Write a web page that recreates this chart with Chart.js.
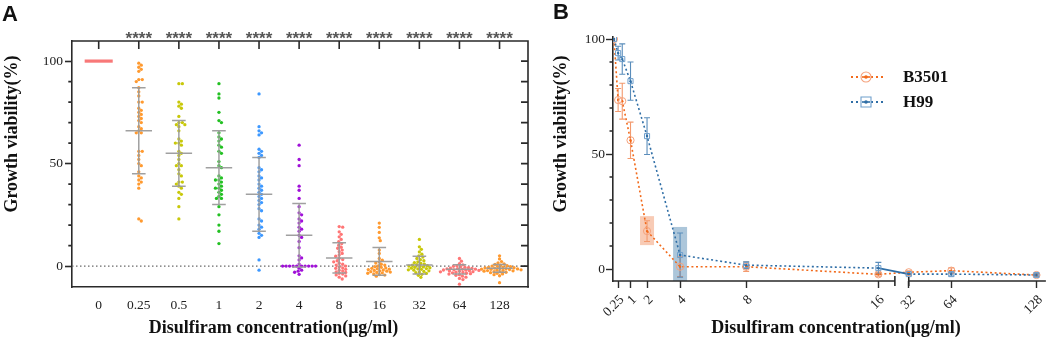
<!DOCTYPE html>
<html><head><meta charset="utf-8">
<script src="https://cdn.jsdelivr.net/npm/chart.js@4.4.1/dist/chart.umd.min.js"></script>
<style>
html,body{margin:0;padding:0;background:#fff;width:1052px;height:340px;overflow:hidden}
#ca{position:absolute;left:0;top:0}
#cb{position:absolute;left:545px;top:0}
</style></head><body>
<canvas id="ca" width="545" height="340"></canvas>
<canvas id="cb" width="507" height="340"></canvas>
<script>
// ================= Panel A data =================
const categories = ['0','0.25','0.5','1','2','4','8','16','32','64','128'];
const sigLabels  = ['', '****','****','****','****','****','****','****','****','****','****'];
const groupColors = ['#f87878','#ff9a30','#c8c80a','#22c022','#3d98ff','#a010d8','#ff7676','#ff9a30','#c8c80a','#ff7676','#ff9a30'];
const v0    = [];
const v025  = [99, 98, 97, 96, 95, 91, 91, 90, 87, 85, 83, 80, 80, 77, 76, 75, 74, 73, 72, 71, 70, 68, 67, 66, 65, 65, 56, 56, 54, 52, 50, 49, 46, 44, 43, 42, 41, 40, 38, 23, 22];
const v05   = [89, 89, 80, 79, 78, 77, 73, 70, 70, 69, 69, 68, 66, 62, 61, 60, 60, 59, 56, 55, 54, 52, 50, 49, 49, 47, 45, 44, 41, 41, 40, 39, 38, 36, 35, 33, 29, 23];
const v1    = [89, 84, 82, 75, 71, 70, 65, 63, 62, 61, 59, 58, 56, 55, 51, 49, 48, 44, 43, 42, 42, 41, 40, 39, 38, 38, 37, 36, 35, 34, 33, 33, 29, 25, 20, 17, 11];
const v2    = [84, 68, 66, 65, 64, 57, 56, 55, 54, 53, 48, 47, 46, 44, 43, 42, 40, 39, 38, 37, 36, 35, 34, 33, 32, 31, 30, 28, 27, 23, 22, 20, 19, 18, 16, 15, 14, 3, -2];
const v4    = [59, 52, 49, 39, 37, 33, 29, 26, 25, 23, 22, 21, 19, 18, 17, 15, 14, 12, 9, 5, 4, 3, 1, 0, 0, 0, 0, 0, 0, 0, 0, 0, 0, -1, -2, -2.5, -3, -4];
const v8    = [19.3, 19, 16.7, 15.5, 14.3, 13, 11.9, 11, 10.2, 9.2, 8.7, 7.8, 7, 6.2, 5.4, 4.8, 3.8, 3.2, 2.6, 2.1, 1.4, 0.9, 0.5, 0, -0.5, -0.9, -1.1, -1.6, -2, -2.4, -2.8, -3.1, -3.5, -3.9, -4.3, -4.8, -5.4, -6.3];
const v16   = [21, 18.9, 16.4, 13.8, 12.4, 7.8, 6.2, 3.7, 2.9, 2.1, 1.5, 0.9, 0.5, 0.1, -0.3, -0.6, -0.9, -1.1, -1.3, -1.5, -1.7, -1.9, -2.1, -2.3, -2.5, -2.7, -2.9, -3.1, -3.3, -3.5, -3.8, -4.1, -4.4, -4.9];
const v32   = [13, 9.4, 8.2, 6.9, 5.8, 5, 4.4, 3.7, 3.1, 2.6, 2.1, 1.7, 1.3, 1, 0.7, 0.4, 0.2, 0, -0.2, -0.4, -0.6, -0.8, -1, -1.2, -1.4, -1.6, -1.8, -2, -2.3, -2.6, -2.9, -3.2, -3.6, -4, -4.5, -5.5];
const v64   = [3.7, 2.4, 1.2, 0.6, 0.2, -0.1, -0.4, -0.6, -0.8, -1, -1.1, -1.3, -1.4, -1.5, -1.6, -1.8, -1.9, -2, -2.1, -2.3, -2.4, -2.5, -2.7, -2.8, -3, -3.1, -3.3, -3.5, -3.7, -3.9, -4.2, -4.5, -4.9, -5.4, -6, -6.6, -8.8];
const v128  = [5, 3.5, 2.2, 1.6, 1.1, 0.8, 0.5, 0.2, 0, -0.2, -0.3, -0.5, -0.6, -0.8, -0.9, -1, -1.2, -1.3, -1.4, -1.5, -1.6, -1.7, -1.8, -2, -2.1, -2.2, -2.3, -2.5, -2.7, -2.8, -3, -3.2, -3.5, -3.8, -4.2, -4.7, -8.1];
const groupValues = [v0, v025, v05, v1, v2, v4, v8, v16, v32, v64, v128];
const groupMeans  = [100, 66, 55, 48, 35, 15, 4, 2.3, 0.5, -1.6, -1.1];
const groupSds    = [0, 21, 16, 18, 18, 15.5, 7.4, 6.8, 4.3, 2.2, 1.9];
const yTicksA  = [0, 10, 20, 30, 40, 50, 60, 70, 80, 90, 100];
const yLabelsA = [0, 50, 100];

// ================= Panel B data =================
const bConc      = [0, 0.25, 0.5, 1, 2, 4, 8, 16, 32, 64, 128];
const b3501Mean  = [100, 73.5, 73, 56, 16.5, 1, 1, -2.3, -1.4, -0.7, -2.6];
const b3501Sd    = [0, 5, 7.8, 7.9, 4.5, 4.3, 2, 0.8, 0.6, 1.2, 0.5];
const h99Mean    = [100, 93.9, 91.3, 81.7, 57.8, 6.1, 1.7, 0.4, -2.2, -2.2, -2.6];
const h99Sd      = [0, 3, 6.6, 8.3, 8, 9.6, 1.5, 2.5, 0.5, 0.8, 0.5];
const bTickValues = [0.25, 1, 2, 4, 8, 16, 32, 64, 128];
const bTickLabels = ['0.25','1','2','4','8','16','32','64','128'];
const yTicksB  = [0, 10, 20, 30, 40, 50, 60, 70, 80, 90, 100];
const yLabelsB = [0, 50, 100];
const highlightConc = [2, 4];
const highlightLow  = [10.4, -5.2];
const highlightHigh = [23, 18.3];
const seriesNames = ['B3501', 'H99'];

// broken x axis: linear segment up to BREAK_LO, compressed segment from BREAK_HI
const BREAK_LO = 17, BREAK_HI = 32, GAP = 0.84, SEG2 = 0.0805;
function axisPos(v) { return v <= BREAK_LO ? v : BREAK_LO + GAP + (v - BREAK_HI) * SEG2; }

const SERIF = "'Liberation Serif','Times New Roman',serif";
const SANS = "'Liberation Sans',Arial,sans-serif";
const AXIS = '#2a2a2a';

// ================= Panel A chart =================
const panelAPlugin = {
  id: 'panelA',
  beforeDatasetsDraw(chart) {
    const {ctx, chartArea: a, scales: {y}} = chart;
    ctx.save();
    const y0 = y.getPixelForValue(0);
    ctx.strokeStyle = '#6a6a6a'; ctx.lineWidth = 1.2; ctx.setLineDash([1.5, 2.5]);
    ctx.beginPath(); ctx.moveTo(a.left, y0); ctx.lineTo(a.right, y0); ctx.stroke();
    ctx.restore();
  },
  afterDatasetsDraw(chart) {
    const {ctx, scales: {x, y}} = chart;
    ctx.save();
    groupMeans.forEach((m, i) => {
      const cx = x.getPixelForValue(i);
      const my = y.getPixelForValue(m);
      if (i === 0) {
        const w = x.getPixelForValue(i + 0.35) - cx;
        ctx.strokeStyle = groupColors[0]; ctx.lineWidth = 3.2;
        ctx.beginPath(); ctx.moveTo(cx - w, my); ctx.lineTo(cx + w, my); ctx.stroke();
        return;
      }
      const w = x.getPixelForValue(i + 0.33) - cx;
      const cw = x.getPixelForValue(i + 0.17) - cx;
      const yt = y.getPixelForValue(m + groupSds[i]);
      const yb = y.getPixelForValue(m - groupSds[i]);
      ctx.strokeStyle = 'rgba(155,155,155,0.95)'; ctx.lineWidth = 1.5;
      ctx.beginPath();
      ctx.moveTo(cx - w, my); ctx.lineTo(cx + w, my);
      ctx.moveTo(cx, yt); ctx.lineTo(cx, yb);
      ctx.moveTo(cx - cw, yt); ctx.lineTo(cx + cw, yt);
      ctx.moveTo(cx - cw, yb); ctx.lineTo(cx + cw, yb);
      ctx.stroke();
    });
    ctx.restore();
  },
  afterDraw(chart) {
    const {ctx, chartArea: a, scales: {x, y}} = chart;
    ctx.save();
    ctx.strokeStyle = AXIS; ctx.lineWidth = 1.6;
    ctx.beginPath();
    ctx.moveTo(a.left - 0.8, a.top); ctx.lineTo(a.right, a.top); ctx.lineTo(a.right, a.bottom + 0.8);
    ctx.stroke();
    ctx.beginPath();
    categories.forEach((c, i) => { const px = x.getPixelForValue(i); ctx.moveTo(px, a.top); ctx.lineTo(px, a.top + 8); });
    yTicksA.forEach(v => { const py = y.getPixelForValue(v); ctx.moveTo(a.right, py); ctx.lineTo(a.right - 7, py); });
    yTicksA.forEach(v => { if (!yLabelsA.includes(v)) { const py = y.getPixelForValue(v); ctx.moveTo(a.left, py); ctx.lineTo(a.left - 3.7, py); } });
    ctx.stroke();
    ctx.fillStyle = '#555'; ctx.font = 'bold 17px ' + SANS; ctx.textAlign = 'center'; ctx.textBaseline = 'alphabetic';
    sigLabels.forEach((s, i) => { if (s) ctx.fillText(s, x.getPixelForValue(i), 44); });
    ctx.fillStyle = '#111'; ctx.font = 'bold 18px ' + SERIF;
    ctx.fillText('Disulfiram concentration(μg/ml)', 273.5, 333);
    ctx.translate(17, 134); ctx.rotate(-Math.PI / 2);
    ctx.fillText('Growth viability(%)', 0, 0);
    ctx.setTransform(1, 0, 0, 1, 0, 0);
    ctx.font = 'bold 22px ' + SANS; ctx.textAlign = 'left';
    ctx.fillText('A', 2, 21);
    ctx.restore();
  }
};

const chartA = new Chart(document.getElementById('ca'), {
  type: 'scatter',
  data: {
    datasets: groupValues.map((vals, i) => ({
      data: vals.map(v => ({x: i, y: v})),
      backgroundColor: groupColors[i],
      borderWidth: 0,
      pointRadius: 1.65,
      pointHoverRadius: 1.65
    }))
  },
  options: {
    responsive: false, animation: false, devicePixelRatio: 1,
    layout: {padding: {top: 41, right: 17, left: 0, bottom: 0}},
    plugins: {legend: {display: false}, tooltip: {enabled: false}},
    scales: {
      x: {
        type: 'linear', min: -0.666, max: 10.71,
        afterBuildTicks: s => { s.ticks = categories.map((c, i) => ({value: i})); },
        afterFit: s => { s.height = 53; },
        ticks: {callback: (v, i) => categories[i], font: {family: SERIF, size: 13.5}, color: '#222', padding: 10, autoSkip: false, maxRotation: 0},
        grid: {display: false, drawTicks: false},
        border: {display: true, color: AXIS, width: 1.6}
      },
      y: {
        type: 'linear', min: -10.2, max: 109.8,
        afterBuildTicks: s => { s.ticks = yTicksA.map(v => ({value: v})); },
        afterFit: s => { s.width = 72; },
        ticks: {callback: v => yLabelsA.includes(v) ? String(v) : '', font: {family: SERIF, size: 13.5}, color: '#222', padding: 2, autoSkip: false},
        grid: {drawOnChartArea: false, tickLength: 7, tickWidth: 1.6,
               tickColor: c => yLabelsA.includes(c.tick.value) ? AXIS : 'rgba(0,0,0,0)'},
        border: {display: true, color: AXIS, width: 1.6}
      }
    }
  },
  plugins: [panelAPlugin]
});

// beeswarm layout of dots inside each category (computed through the chart scales)
(function swarm(chart) {
  const xs = chart.scales.x, ys = chart.scales.y;
  const pxPerUnit = xs.getPixelForValue(1) - xs.getPixelForValue(0);
  const DX = 3.4, DY = 3.0;
  chart.data.datasets.forEach((ds, i) => {
    const placed = [];
    ds.data = groupValues[i].map(v => {
      const py = ys.getPixelForValue(v);
      let ox = 0;
      for (let k = 0; k < 400; k++) {
        const cand = (k % 2 === 1 ? 1 : -1) * Math.ceil(k / 2) * 0.5;
        if (placed.every(p => ((p.x - cand) / DX) ** 2 + ((p.y - py) / DY) ** 2 >= 1)) { ox = cand; break; }
      }
      placed.push({x: ox, y: py});
      return {x: i + ox / pxPerUnit, y: v};
    });
  });
  chart.update('none');
})(chartA);

// ================= Panel B chart =================
const orangeLine = '#f26a1b', orangeLight = '#f5a27c', orangeBar = '#f39a6e';
const blueLine = '#2f6ea6', blueLight = '#6f9fcc', blueBar = '#5a8dbb';
const seriesMeans = [b3501Mean, h99Mean];
const seriesSds = [b3501Sd, h99Sd];
const seriesBarColors = [orangeBar, blueBar];
const highlightFill = ['rgba(240,140,90,0.45)', 'rgba(58,118,168,0.42)'];

const panelBPlugin = {
  id: 'panelB',
  beforeDatasetsDraw(chart) {
    const {ctx, scales: {x, y}} = chart;
    ctx.save();
    highlightConc.forEach((c, i) => {
      const cx = x.getPixelForValue(axisPos(c));
      const yt = y.getPixelForValue(highlightHigh[i]);
      const yb = y.getPixelForValue(highlightLow[i]);
      ctx.fillStyle = highlightFill[i];
      ctx.fillRect(cx - 7, yt, 14, yb - yt);
    });
    seriesMeans.forEach((means, s) => {
      ctx.strokeStyle = seriesBarColors[s]; ctx.lineWidth = 1.1;
      ctx.beginPath();
      means.forEach((m, i) => {
        const sd = seriesSds[s][i];
        if (!sd) return;
        const cx = x.getPixelForValue(axisPos(bConc[i]));
        const yt = y.getPixelForValue(m + sd), yb = y.getPixelForValue(m - sd);
        ctx.moveTo(cx, yt); ctx.lineTo(cx, yb);
        ctx.moveTo(cx - 3, yt); ctx.lineTo(cx + 3, yt);
        ctx.moveTo(cx - 3, yb); ctx.lineTo(cx + 3, yb);
      });
      ctx.stroke();
    });
    ctx.restore();
  },
  afterDraw(chart) {
    const {ctx, chartArea: a, scales: {x, y}} = chart;
    ctx.save();
    ctx.strokeStyle = AXIS; ctx.lineWidth = 1.6;
    const bLo = x.getPixelForValue(axisPos(BREAK_LO));
    const bHi = x.getPixelForValue(axisPos(BREAK_HI));
    ctx.beginPath();
    ctx.moveTo(a.left - 0.8, a.bottom); ctx.lineTo(bLo, a.bottom);
    ctx.moveTo(bHi, a.bottom); ctx.lineTo(a.right, a.bottom);
    ctx.moveTo(bLo, a.bottom - 5); ctx.lineTo(bLo, a.bottom + 5);
    ctx.moveTo(bHi, a.bottom - 4); ctx.lineTo(bHi, a.bottom + 5);
    yTicksB.forEach(v => { if (!yLabelsB.includes(v)) { const py = y.getPixelForValue(v); ctx.moveTo(a.left, py); ctx.lineTo(a.left - 3.5, py); } });
    ctx.stroke();
    const lx0 = 306, lx1 = 341, mx = 321;
    [[orangeLine, orangeLight, 77, 'circle'], [blueLine, blueLight, 102, 'square']].forEach(([lc, mc, ly, shape], s) => {
      ctx.strokeStyle = lc; ctx.lineWidth = 1.8; ctx.setLineDash([2, 3]);
      ctx.beginPath(); ctx.moveTo(lx0, ly); ctx.lineTo(lx1, ly); ctx.stroke();
      ctx.setLineDash([]);
      ctx.fillStyle = '#fff';
      ctx.strokeStyle = mc; ctx.lineWidth = 1.1;
      ctx.beginPath();
      if (shape === 'circle') ctx.arc(mx, ly, 5, 0, Math.PI * 2); else ctx.rect(mx - 5, ly - 5, 10, 10);
      ctx.fill(); ctx.stroke();
      ctx.strokeStyle = lc; ctx.lineWidth = 1.6;
      ctx.beginPath(); ctx.moveTo(mx - 4, ly); ctx.lineTo(mx + 4, ly); ctx.stroke();
      ctx.fillStyle = lc; ctx.beginPath(); ctx.arc(mx, ly, 1.8, 0, Math.PI * 2); ctx.fill();
      ctx.fillStyle = '#111'; ctx.font = 'bold 17px ' + SERIF; ctx.textAlign = 'left'; ctx.textBaseline = 'middle';
      ctx.fillText(seriesNames[s], 358, ly + 1);
    });
    ctx.fillStyle = '#111'; ctx.font = 'bold 18px ' + SERIF; ctx.textAlign = 'center'; ctx.textBaseline = 'alphabetic';
    ctx.fillText('Disulfiram concentration(μg/ml)', 291, 333);
    ctx.translate(20.5, 134); ctx.rotate(-Math.PI / 2);
    ctx.fillText('Growth viability(%)', 0, 0);
    ctx.setTransform(1, 0, 0, 1, 0, 0);
    ctx.font = 'bold 22px ' + SANS; ctx.textAlign = 'left';
    ctx.fillText('B', 8, 19);
    ctx.restore();
  }
};

function lineDs(means, lineColor, markColor, style, solidBreak) {
  return {
    data: bConc.map((c, i) => ({x: axisPos(c), y: means[i]})),
    showLine: true, borderColor: lineColor, borderWidth: 1.6, borderDash: [2, 2.6], tension: 0,
    segment: solidBreak ? {borderDash: ctx => (bConc[ctx.p0DataIndex] < BREAK_LO && bConc[ctx.p1DataIndex] > BREAK_LO) ? [] : undefined} : {},
    pointStyle: style, pointRadius: 3.6, pointHoverRadius: 3.6,
    pointBorderColor: markColor, pointBackgroundColor: 'rgba(255,255,255,0)', pointBorderWidth: 1
  };
}
function dotDs(means, color) {
  return {
    data: bConc.map((c, i) => ({x: axisPos(c), y: means[i]})),
    showLine: false, pointRadius: 1.2, pointHoverRadius: 1.2, pointBackgroundColor: color, pointBorderWidth: 0
  };
}

const chartB = new Chart(document.getElementById('cb'), {
  type: 'scatter',
  data: {datasets: [
    lineDs(h99Mean, blueLine, blueLight, 'rect', true),
    dotDs(h99Mean, blueLine),
    lineDs(b3501Mean, orangeLine, orangeLight, 'circle', false),
    dotDs(b3501Mean, orangeLine)
  ]},
  options: {
    responsive: false, animation: false, devicePixelRatio: 1,
    layout: {padding: {top: 37, right: 4, left: 0, bottom: 0}},
    plugins: {legend: {display: false}, tooltip: {enabled: false}},
    scales: {
      x: {
        type: 'linear', min: -0.06, max: 26.14,
        afterBuildTicks: s => { s.ticks = bTickValues.map(v => ({value: axisPos(v)})); },
        afterFit: s => { s.height = 59; },
        ticks: {callback: (v, i) => bTickLabels[i], font: {family: SERIF, size: 13.5}, color: '#222', padding: 4, labelOffset: 4, autoSkip: false, minRotation: 45, maxRotation: 45},
        grid: {drawOnChartArea: false, tickLength: 7, tickWidth: 1.4, tickColor: AXIS},
        border: {display: false}
      },
      y: {
        type: 'linear', min: -5.2, max: 100.9,
        afterBuildTicks: s => { s.ticks = yTicksB.map(v => ({value: v})); },
        afterFit: s => { s.width = 68; },
        ticks: {callback: v => yLabelsB.includes(v) ? String(v) : '', font: {family: SERIF, size: 13.5}, color: '#222', padding: 1, autoSkip: false},
        grid: {drawOnChartArea: false, tickLength: 7, tickWidth: 1.4,
               tickColor: c => yLabelsB.includes(c.tick.value) ? AXIS : 'rgba(0,0,0,0)'},
        border: {display: true, color: AXIS, width: 1.6}
      }
    }
  },
  plugins: [panelBPlugin]
});
</script>
</body></html>
